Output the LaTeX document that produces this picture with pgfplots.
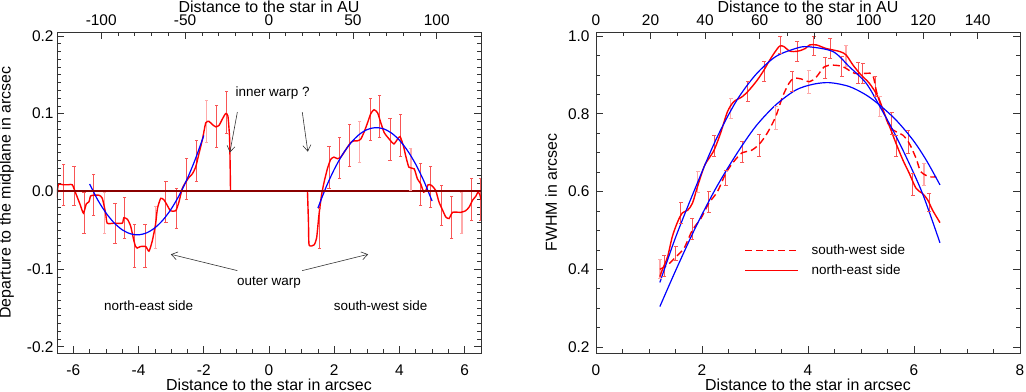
\documentclass[border=0pt]{standalone}
\usepackage{fontspec}
\setmainfont{Liberation Sans}
\usepackage{pgfplots}
\pgfplotsset{compat=1.18}
\usetikzlibrary{arrows.meta}
\definecolor{cRed}{HTML}{FF0000}
\definecolor{cBlue}{HTML}{0000FF}
\definecolor{cZero}{HTML}{8B0000}
\definecolor{ebRed}{HTML}{F85555}
\definecolor{ebPink}{HTML}{FFAAAA}
\definecolor{axInk}{HTML}{333333}
\newcommand{\tickfont}{\fontsize{15.5}{17}\selectfont}
\newcommand{\labfont}{\fontsize{16}{18}\selectfont}
\newcommand{\notefont}{\fontsize{13.5}{15}\selectfont}
\pgfplotsset{
  idl/.style={
    scale only axis, width=424bp, height=321bp,
    axis line style={axInk, line width=0.8pt},
    tick style={axInk, line width=0.6pt},
    major tick length=7bp, minor tick length=4bp,
    tick align=inside,
    tick label style={font=\tickfont},
    label style={font=\labfont},
    /pgf/number format/assume math mode=true,
  },
  bottomlabels/.style={
    xticklabel style={anchor=base, yshift=-22bp},
    xlabel style={at={(axis description cs:0.5,0)}, anchor=base, yshift=-37bp}},
  toplabels/.style={
    xtick pos=right, xticklabel pos=right, ytick=\empty,
    xticklabel style={anchor=base, yshift=6bp},
    xlabel style={at={(axis description cs:0.5,1)}, anchor=base, yshift=19.5bp}},
  % error bars: each bar is a (x,lo)-(x,hi) segment, nan breaks between bars
  ebar/.style 2 args={#1, line width=#2, unbounded coords=jump, forget plot,
    mark=-, mark size=1.6bp, mark options={#1, line width=0.8bp, solid}},
}

\begin{document}
\begin{tikzpicture}
\path[use as bounding box] (-57bp,-39bp) rectangle (969bp,353bp);

% ---------------- left panel: departure to the midplane ----------------
\begin{axis}[idl, bottomlabels, at={(0,0)}, anchor=south west,
  xmin=-6.5, xmax=6.5, ymin=-0.208, ymax=0.205,
  xtick={-6,-4,...,6}, minor x tick num=3,
  ytick={-0.2,-0.1,0,0.1,0.2}, minor y tick num=9,
  xtick pos=left, ytick pos=both,
  yticklabel style={/pgf/number format/.cd, fixed, fixed zerofill, precision=1},
  xlabel={Distance to the star in arcsec},
  ylabel={Departure to the midplane in arcsec},
  ylabel style={at={(axis description cs:-0.119,0.5)}, anchor=center}]
  % error bars, both sides
  \addplot[ebar={ebRed}{0.9bp}] coordinates {
    (-6.29,-0.018) (-6.29,0.035) (-6.29,nan) (-5.98,-0.018) (-5.98,0.032) (-5.98,nan)
    (-5.67,-0.054) (-5.67,-0.002) (-5.67,nan) (-5.37,-0.031) (-5.37,0.022) (-5.37,nan)
    (-4.72,-0.067) (-4.72,-0.015) (-4.72,nan) (-4.42,-0.060) (-4.42,-0.008) (-4.42,nan)
    (-4.12,-0.098) (-4.12,-0.043) (-4.12,nan) (-3.80,-0.098) (-3.80,-0.043) (-3.80,nan)
    (-3.16,-0.040) (-3.16,0.013) (-3.16,nan) (-2.84,-0.048) (-2.84,0.004) (-2.84,nan)
    (-2.53,-0.011) (-2.53,0.043) (-2.53,nan) (-2.23,0.013) (-2.23,0.066) (-2.23,nan)
    (-1.61,0.056) (-1.61,0.110) (-1.61,nan) (-1.30,0.074) (-1.30,0.128) (-1.30,nan)
    (1.54,-0.073) (1.54,-0.022) (1.54,nan) (1.84,0.004) (1.84,0.058) (1.84,nan)
    (2.16,0.016) (2.16,0.069) (2.16,nan) (2.48,0.032) (2.48,0.086) (2.48,nan)
    (3.10,0.065) (3.10,0.119) (3.10,nan) (3.40,0.070) (3.40,0.124) (3.40,nan)
    (3.71,0.0395) (3.71,0.0935) (3.71,nan) (4.03,0.045) (4.03,0.099) (4.03,nan)
    (4.65,-0.018) (4.65,0.036) (4.65,nan) (4.96,-0.021) (4.96,0.032) (4.96,nan)
    (5.29,-0.044) (5.29,0.008) (5.29,nan) (5.60,-0.061) (5.60,-0.007) (5.60,nan)
    (6.22,-0.038) (6.22,0.016) (6.22,nan) (6.49,-0.038) (6.49,0.016)};
  \addplot[ebar={ebPink}{1.6bp}] coordinates {
    (-5.04,-0.054) (-5.04,-0.001) (-5.04,nan) (-3.48,-0.073) (-3.48,-0.020) (-3.48,nan)
    (-1.92,0.063) (-1.92,0.117) (-1.92,nan) (2.78,0.037) (2.78,0.090) (2.78,nan)
    (4.35,0.001) (4.35,0.055) (4.35,nan) (5.91,-0.054) (5.91,-0.001)};
  % measured departure, north-east side
  \addplot[cRed, line width=1.4pt, smooth, tension=0.35] coordinates {
    (-6.50,-0.008) (-6.46,0.0085) (-6.30,0.0085) (-6.15,0.0085) (-6.03,0.0085)
    (-5.93,-0.002) (-5.80,-0.016) (-5.69,-0.028) (-5.60,-0.016) (-5.52,-0.0135)
    (-5.47,-0.006) (-5.37,-0.005) (-5.21,-0.005) (-5.11,-0.009) (-5.01,-0.028)
    (-4.96,-0.041) (-4.75,-0.041) (-4.50,-0.041) (-4.45,-0.034) (-4.34,-0.036)
    (-4.24,-0.045) (-4.14,-0.064) (-4.09,-0.071) (-4.04,-0.073) (-3.94,-0.071)
    (-3.78,-0.071) (-3.68,-0.077) (-3.58,-0.064) (-3.48,-0.043) (-3.42,-0.022)
    (-3.32,-0.009) (-3.22,-0.011) (-3.12,-0.018) (-3.02,-0.025) (-2.86,-0.025)
    (-2.76,-0.0135) (-2.66,0.0035) (-2.55,0.012) (-2.45,0.018) (-2.35,0.0225)
    (-2.25,0.031) (-2.15,0.048) (-2.04,0.067) (-1.94,0.088) (-1.84,0.090)
    (-1.74,0.086) (-1.63,0.083) (-1.53,0.085) (-1.43,0.093) (-1.33,0.100)
    (-1.26,0.097) (-1.21,0.070) (-1.19,0.030) (-1.18,0.0)};
  % measured departure, south-west side
  \addplot[cRed, line width=1.4pt, smooth, tension=0.35] coordinates {
    (1.18,0.0) (1.21,-0.040) (1.23,-0.069) (1.38,-0.069) (1.46,-0.060)
    (1.53,-0.031) (1.61,-0.005) (1.69,0.012) (1.79,0.029) (1.89,0.041)
    (1.99,0.044) (2.10,0.042) (2.20,0.044) (2.30,0.050) (2.40,0.0565)
    (2.51,0.063) (2.61,0.065) (2.71,0.065) (2.81,0.067) (2.91,0.0757)
    (3.02,0.088) (3.12,0.100) (3.22,0.105) (3.33,0.101) (3.43,0.088)
    (3.53,0.0757) (3.63,0.070) (3.73,0.065) (3.83,0.061) (3.94,0.067)
    (4.02,0.0705) (4.12,0.0586) (4.19,0.046) (4.29,0.031) (4.45,0.029)
    (4.55,0.016) (4.65,0.0098) (4.74,-0.001) (4.81,0.0013) (4.88,0.0085)
    (4.98,0.0077) (5.11,0.0013) (5.21,-0.0135) (5.32,-0.024) (5.42,-0.033)
    (5.52,-0.035) (5.63,-0.027) (5.88,-0.027) (6.03,-0.025) (6.14,-0.020)
    (6.24,-0.0115) (6.34,-0.0064) (6.41,-0.0008) (6.47,-0.005) (6.50,-0.011)};
  % parabolic fits
  \addplot[cBlue, line width=1.2pt, smooth] coordinates {
    (-5.50,0.0094) (-5.25,-0.0111) (-5.00,-0.0277) (-4.75,-0.0405) (-4.50,-0.0495)
    (-4.25,-0.0546) (-4.00,-0.0560) (-3.75,-0.0534) (-3.50,-0.0470) (-3.25,-0.0368)
    (-3.00,-0.0228) (-2.75,-0.0049) (-2.50,0.0168) (-2.25,0.0424) (-2.00,0.0718)};
  \addplot[cBlue, line width=1.2pt, smooth] coordinates {
    (1.50,-0.0215) (1.75,0.0054) (2.00,0.0282) (2.25,0.0471) (2.50,0.0618)
    (2.75,0.0726) (3.00,0.0793) (3.25,0.0819) (3.50,0.0806) (3.75,0.0752)
    (4.00,0.0657) (4.25,0.0522) (4.50,0.0347) (4.75,0.0131) (5.00,-0.0124)};
  % midplane
  \addplot[cZero, line width=2bp] coordinates {(-6.5,0) (6.5,0)};
  % annotations
  \node[font=\notefont] at (axis cs:0.11,0.127) {inner warp ?};
  \draw[axInk, line width=0.6pt, -{Straight Barb[length=6bp,width=8bp]}]
    (axis cs:-0.97,0.102) -- (axis cs:-1.20,0.050);
  \draw[axInk, line width=0.6pt, -{Straight Barb[length=6bp,width=8bp]}]
    (axis cs:1.02,0.102) -- (axis cs:1.19,0.051);
  \node[font=\notefont] at (axis cs:0.0,-0.117) {outer warp};
  \draw[axInk, line width=0.6pt, -{Straight Barb[length=6bp,width=8bp]}]
    (axis cs:-0.97,-0.102) -- (axis cs:-3.01,-0.081);
  \draw[axInk, line width=0.6pt, -{Straight Barb[length=6bp,width=8bp]}]
    (axis cs:1.02,-0.102) -- (axis cs:3.04,-0.081);
  \node[font=\notefont] at (axis cs:-3.69,-0.147) {north-east side};
  \node[font=\notefont] at (axis cs:3.42,-0.147) {south-west side};
\end{axis}
\begin{axis}[idl, toplabels, at={(0,0)}, anchor=south west,
  xmin=-126.36, xmax=126.36, ymin=0, ymax=1,
  xtick={-100,-50,...,100}, minor x tick num=4,
  xlabel={Distance to the star in AU}]
\end{axis}

% ---------------- right panel: FWHM ----------------
\begin{axis}[idl, bottomlabels, at={(539bp,0)}, anchor=south west,
  xmin=0, xmax=8, ymin=0.1846, ymax=1.0103,
  xtick={0,2,...,8}, minor x tick num=3,
  ytick={0.2,0.4,...,1.0}, minor y tick num=3,
  xtick pos=left, ytick pos=both,
  yticklabel style={xshift=-3bp, /pgf/number format/.cd, fixed, fixed zerofill, precision=1},
  xlabel={Distance to the star in arcsec},
  ylabel={FWHM in arcsec},
  ylabel style={at={(axis description cs:-0.106,0.5)}, anchor=center},
  legend image code/.code={\draw[#1] (0bp,0bp) -- (53bp,0bp);},
  legend style={at={(axis cs:2.80,0.468)}, anchor=north west, draw=none, fill=none,
    font=\notefont, inner sep=0pt, row sep=5bp, cells={anchor=west},
    /tikz/every odd column/.append style={column sep=11bp}}]
  % error bars, both sides
  \addplot[ebar={ebRed}{0.9bp}, mark size=2bp] coordinates {
    (1.29,0.381) (1.29,0.436) (1.29,nan) (1.60,0.518) (1.60,0.572) (1.60,nan)
    (2.23,0.690) (2.23,0.745) (2.23,nan) (2.86,0.831) (2.86,0.882) (2.86,nan)
    (3.17,0.882) (3.17,0.934) (3.17,nan) (3.48,0.9555) (3.48,1.0) (3.48,nan)
    (3.80,0.934) (3.80,0.985) (3.80,nan) (4.105,0.951) (4.105,1.0) (4.105,nan)
    (4.42,0.943) (4.42,0.994) (4.42,nan) (5.03,0.878) (5.03,0.930) (5.03,nan)
    (5.66,0.690) (5.66,0.744) (5.66,nan) (5.975,0.591) (5.975,0.647) (5.975,nan)
    (6.29,0.548) (6.29,0.595) (6.29,nan)
    (1.507,0.424) (1.507,0.458) (1.507,nan) (1.82,0.476) (1.82,0.531) (1.82,nan)
    (2.13,0.545) (2.13,0.599) (2.13,nan) (2.45,0.617) (2.45,0.655) (2.45,nan)
    (2.76,0.674) (2.76,0.728) (2.76,nan) (3.075,0.691) (3.075,0.748) (3.075,nan)
    (3.70,0.857) (3.70,0.908) (3.70,nan) (4.33,0.891) (4.33,0.945) (4.33,nan)
    (4.64,0.895) (4.64,0.947) (4.64,nan) (4.95,0.878) (4.95,0.931) (4.95,nan)
    (5.27,0.844) (5.27,0.897) (5.27,nan) (5.58,0.747) (5.58,0.803) (5.58,nan)
    (5.89,0.698) (5.89,0.756)};
  \addplot[ebar={ebPink}{1.6bp}, mark size=2bp] coordinates {
    (1.205,0.377) (1.205,0.426) (1.205,nan) (1.915,0.597) (1.915,0.651) (1.915,nan)
    (2.54,0.788) (2.54,0.840) (2.54,nan) (4.72,0.921) (4.72,0.977) (4.72,nan)
    (5.35,0.792) (5.35,0.844) (5.35,nan) (3.39,0.761) (3.39,0.818) (3.39,nan)
    (4.01,0.853) (4.01,0.911) (4.01,nan) (6.19,0.617) (6.19,0.672)};
  % south-west side (dashed)
  \addplot[cRed, line width=1.4pt, dash pattern=on 7bp off 4bp, smooth, forget plot] coordinates {
    (1.205,0.400) (1.35,0.411) (1.507,0.432) (1.66,0.454) (1.82,0.501)
    (1.98,0.531) (2.13,0.570) (2.29,0.5995) (2.45,0.647) (2.60,0.677)
    (2.76,0.700) (2.92,0.705) (3.075,0.721) (3.23,0.750) (3.39,0.7925)
    (3.52,0.844) (3.64,0.878) (3.73,0.891) (3.86,0.890) (4.03,0.8825)
    (4.16,0.895) (4.31,0.921) (4.47,0.925) (4.66,0.921) (4.88,0.904)
    (5.10,0.904) (5.22,0.900) (5.30,0.853) (5.41,0.810) (5.54,0.767)
    (5.66,0.754) (5.79,0.745) (5.91,0.724) (6.04,0.685) (6.13,0.651)
    (6.29,0.638) (6.42,0.638)};
  % north-east side (solid)
  \addplot[cRed, line width=1.4pt, smooth, forget plot] coordinates {
    (1.205,0.381) (1.255,0.400) (1.35,0.432) (1.44,0.484) (1.54,0.522)
    (1.63,0.545) (1.73,0.552) (1.82,0.570) (1.915,0.6125) (2.04,0.664)
    (2.13,0.685) (2.23,0.707) (2.35,0.750) (2.48,0.805) (2.60,0.831)
    (2.76,0.844) (2.89,0.861) (3.045,0.887) (3.17,0.9125) (3.26,0.934)
    (3.36,0.9555) (3.465,0.974) (3.55,0.9725) (3.64,0.962) (3.73,0.960)
    (3.84,0.962) (3.95,0.968) (4.03,0.977) (4.16,0.977) (4.34,0.968)
    (4.60,0.960) (4.72,0.951) (4.85,0.925) (5.00,0.900) (5.16,0.878)
    (5.32,0.844) (5.44,0.801) (5.54,0.767) (5.66,0.724) (5.79,0.681)
    (5.91,0.647) (6.04,0.608) (6.16,0.595) (6.26,0.578) (6.35,0.552)
    (6.49,0.520)};
  % fits
  \addplot[cBlue, line width=1.2pt, smooth, forget plot] coordinates {
    (1.205,0.366) (1.507,0.484) (1.883,0.612) (2.26,0.7325) (2.64,0.831)
    (3.01,0.900) (3.39,0.947) (3.77,0.968) (4.00,0.9725) (4.47,0.960)
    (4.78,0.921) (5.10,0.878) (5.35,0.820) (5.60,0.758) (5.85,0.6895)
    (6.16,0.595) (6.49,0.468)};
  \addplot[cBlue, line width=1.2pt, smooth, forget plot] coordinates {
    (1.205,0.304) (1.507,0.398) (1.883,0.509) (2.26,0.608) (2.64,0.694)
    (3.01,0.767) (3.39,0.8225) (3.77,0.861) (4.10,0.876) (4.41,0.880)
    (4.78,0.870) (5.10,0.848) (5.35,0.8225) (5.66,0.784) (5.98,0.7325)
    (6.23,0.681) (6.49,0.617)};
  \addlegendimage{cRed, line width=1pt, dash pattern=on 7bp off 4bp}
  \addlegendentry{south-west side}
  \addlegendimage{cRed, line width=1pt}
  \addlegendentry{north-east side}
\end{axis}
\begin{axis}[idl, toplabels, at={(539bp,0)}, anchor=south west,
  xmin=0, xmax=155.52, ymin=0, ymax=1,
  xtick={0,20,...,140}, minor x tick num=1,
  xlabel={Distance to the star in AU}]
\end{axis}
\end{tikzpicture}
\end{document}
